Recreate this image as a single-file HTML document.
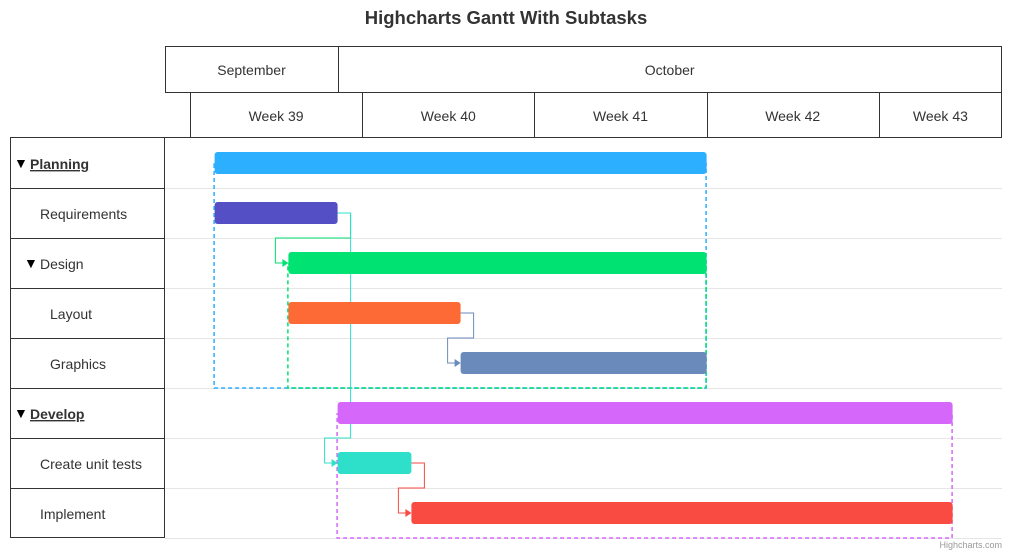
<!DOCTYPE html>
<html><head><meta charset="utf-8"><style>
body{margin:0;background:#fff}
svg{display:block;font-family:"Liberation Sans",Arial,sans-serif}
</style></head><body>
<svg id="c" width="1012" height="553" viewBox="0 0 1012 553" xmlns="http://www.w3.org/2000/svg">
<text x="506" y="24" text-anchor="middle" font-size="18.5" font-weight="bold" fill="#333">Highcharts Gantt With Subtasks</text>
<g id="g"></g>
<text x="1002" y="548" text-anchor="end" font-size="9" fill="#999">Highcharts.com</text>
</svg>
<script>
const taskNames=["Planning","Requirements","Design","Layout","Graphics","Develop","Create unit tests","Implement"];
const taskStart=[1,1,4,4,11,6,6,9];
const taskEnd=[21,6,21,11,21,31,9,31];
const taskLevel=[0,1,1,2,2,0,1,1];
const taskColors=["#2caffe","#544fc5","#00e272","#fe6a35","#6b8abc","#d568fb","#2ee0ca","#fa4b42"];
const deps=[[1,2],[3,4],[1,6],[6,7]];
const groups=[[0,0,4],[2,2,4],[5,5,7]];
const weekLabels=["Week 39","Week 40","Week 41","Week 42","Week 43"];
const months=[["September",-1,6],["October",6,33]];
const X0=190,DAY=24.6,CR=1002,TOP=138,RH=50;
const x=d=>Math.min(CR,X0+d*DAY);
const y=i=>TOP+i*RH;
const g=document.getElementById('g');
function el(t,a,txt){const e=document.createElementNS('http://www.w3.org/2000/svg',t);for(const k in a)e.setAttribute(k,a[k]);if(txt!==undefined)e.textContent=txt;g.appendChild(e);return e;}
// header
let e=el('path',{d:'M165.5,92.5V46.5H1001.5V137.5M165,92.5H1002M165,137.5H1002',fill:'none',stroke:'#333'});

months.forEach((m,i)=>{const a=Math.max(165,x(m[1])),b=x(m[2]);
 if(i>0)el('line',{x1:Math.round(a)+.5,x2:Math.round(a)+.5,y1:46,y2:92,stroke:'#333'});
 e=el('text',{x:(a+b)/2,y:75,'text-anchor':'middle','font-size':14,fill:'#333'},m[0]);
 });
weekLabels.forEach((w,i)=>{const a=x(i*7),b=x(i*7+7);
 el('line',{x1:Math.round(a)+.5,x2:Math.round(a)+.5,y1:92,y2:137,stroke:'#333'});
 e=el('text',{x:(a+b)/2,y:121,'text-anchor':'middle','font-size':14,fill:'#333'},w);
 });
// left grid & rows
el('rect',{x:10.5,y:137.5,width:154,height:400,fill:'none',stroke:'#333'});
taskNames.forEach((n,i)=>{
 if(i>0)el('line',{x1:10,x2:165,y1:y(i)+.5,y2:y(i)+.5,stroke:'#333'});
 el('line',{x1:165,x2:1002,y1:y(i+1)+.5,y2:y(i+1)+.5,stroke:'#e6e6e6'});
 const isP=[0,2,5].includes(i);let tx=[30,40,50][taskLevel[i]];
 if(isP){e=el('text',{x:tx-16,y:y(i)+30,'font-size':14,fill:'#000'},'▼');
  }
 e=el('text',{x:tx,y:y(i)+31,'font-size':14,fill:'#333','font-weight':taskLevel[i]==0?'bold':'normal','text-decoration':taskLevel[i]==0?'underline':'none'},n);
 
});
// group boxes
groups.forEach(([p,a,b])=>{
 e=el('rect',{x:x(taskStart[p])-.5,y:y(a)+26,width:x(taskEnd[p])-x(taskStart[p]),height:y(b+1)-y(a)-26,fill:'none',stroke:taskColors[p],'stroke-dasharray':'4,3','stroke-width':1.5});
 });
// dependencies
deps.forEach(([f,t])=>{
 const c=taskColors[t],xa=x(taskEnd[f]),ya=y(f)+25,xb=x(taskStart[t]),yb=y(t)+25,mx=xa+13,sx=xb-13,my=y(f+1);
 const ym=(t-f>1)?y(t):my;
 e=el('path',{d:`M${xa},${ya}H${mx}V${ym}H${sx}V${yb}H${xb-5}`,fill:'none',stroke:c,'stroke-width':1});
 
 el('path',{d:`M${xb-6},${yb-4}L${xb},${yb}L${xb-6},${yb+4}Z`,fill:c});});
// bars
taskNames.forEach((n,i)=>{
 e=el('rect',{x:x(taskStart[i]),y:y(i)+14,width:x(taskEnd[i])-x(taskStart[i]),height:22,rx:3,fill:taskColors[i]});
 });
</script>
</body></html>
